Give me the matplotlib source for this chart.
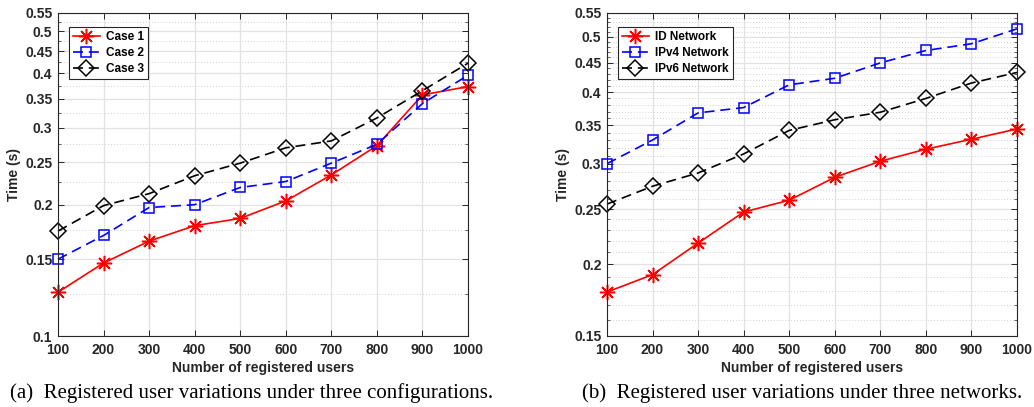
import matplotlib
matplotlib.use("Agg")
import matplotlib.pyplot as plt
from matplotlib.ticker import FixedLocator, FixedFormatter, NullFormatter

users = [100, 200, 300, 400, 500, 600, 700, 800, 900, 1000]

case1 = [0.126, 0.147, 0.165, 0.179, 0.186, 0.204, 0.234, 0.273, 0.357, 0.373]
case2 = [0.150, 0.170, 0.197, 0.200, 0.219, 0.226, 0.249, 0.275, 0.341, 0.396]
case3 = [0.174, 0.199, 0.212, 0.233, 0.249, 0.270, 0.280, 0.316, 0.365, 0.422]

id_net = [0.179, 0.192, 0.218, 0.247, 0.259, 0.284, 0.303, 0.318, 0.331, 0.345]
ipv4_net = [0.300, 0.330, 0.368, 0.376, 0.412, 0.423, 0.450, 0.473, 0.486, 0.516]
ipv6_net = [0.255, 0.274, 0.289, 0.312, 0.343, 0.358, 0.369, 0.390, 0.415, 0.433]

left_labels = ["Case 1", "Case 2", "Case 3"]
right_labels = ["ID Network", "IPv4 Network", "IPv6 Network"]

left_yticks = [0.1, 0.15, 0.2, 0.25, 0.3, 0.35, 0.4, 0.45, 0.5, 0.55]
left_yminor = [0.125, 0.175, 0.225, 0.275, 0.325, 0.375, 0.425, 0.475, 0.525]
right_yticks = [0.15, 0.2, 0.25, 0.3, 0.35, 0.4, 0.45, 0.5, 0.55]
right_yminor = [v / 100 for v in range(16, 55) if v % 5 != 0]

captions = ["(a)  Registered user variations under three configurations.",
            "(b)  Registered user variations under three networks."]

plt.rcParams['font.family'] = ['Liberation Sans', 'DejaVu Sans']
plt.rcParams['font.weight'] = 'bold'
TXT = '#262626'

fig = plt.figure(figsize=(10.34, 4.07), dpi=100)
W, H = 1034, 407

def make_ax(x0, x1, y0, y1):
    return fig.add_axes([x0 / W, 1 - y1 / H, (x1 - x0) / W, (y1 - y0) / H])

axL = make_ax(58, 468, 13, 336)
axR = make_ax(607, 1017, 13, 336)

styles = [dict(color='red', marker=(8, 2, 0), linestyle='-', markersize=11, markeredgewidth=1.1),
          dict(color='blue', marker='s', linestyle=(0, (6, 3.5)), markersize=7, markerfacecolor='none', markeredgewidth=1.1),
          dict(color='black', marker='D', linestyle=(0, (6, 3.5)), markersize=8, markerfacecolor='none', markeredgewidth=1.1)]

def setup(ax, series, labels, yticks, yminor, ylim):
    for s, lab, st in zip(series, labels, styles):
        ax.plot(users, s, label=lab, linewidth=1.2, clip_on=False, zorder=3, **st)
    ax.set_yscale('log')
    ax.set_xlim(100, 1000)
    ax.set_ylim(*ylim)
    ax.xaxis.set_major_locator(FixedLocator(users))
    ax.set_xticklabels([str(u) for u in users])
    ax.yaxis.set_major_locator(FixedLocator(yticks))
    ax.yaxis.set_major_formatter(FixedFormatter([('%g' % t) for t in yticks]))
    ax.yaxis.set_minor_locator(FixedLocator(yminor))
    ax.yaxis.set_minor_formatter(NullFormatter())
    ax.grid(True, which='major', color='#e2e2e2', linewidth=0.9, linestyle='-')
    ax.grid(True, which='minor', axis='y', color='#c4c4c4', linewidth=0.6, linestyle=(0, (1, 2.5)))
    ax.set_axisbelow(True)
    ax.tick_params(which='both', direction='in', top=True, right=True, colors=TXT,
                   labelsize=10)
    ax.tick_params(axis='x', pad=5)
    ax.tick_params(axis='y', pad=4)
    ax.tick_params(which='major', length=4, width=0.7)
    ax.tick_params(which='minor', length=2, width=0.5)
    for sp in ax.spines.values():
        sp.set_color(TXT)
        sp.set_linewidth(0.8)
        sp.set_zorder(4)
    for lbl in ax.get_xticklabels() + ax.get_yticklabels():
        lbl.set_fontweight('bold')
    ax.set_xlabel('Number of registered users', fontsize=10, fontweight='bold', color=TXT, labelpad=3)
    ax.set_ylabel('Time (s)', fontsize=10, fontweight='bold', color=TXT, labelpad=3)
    leg = ax.legend(loc='upper left', bbox_to_anchor=(0.02, 0.965), fontsize=8.5, frameon=True,
                    fancybox=False, edgecolor=TXT, framealpha=1, handlelength=2.3,
                    borderpad=0.35, labelspacing=0.35, handletextpad=0.5, borderaxespad=0.2)
    leg.get_frame().set_linewidth(0.8)
    leg.set_zorder(5)
    for t in leg.get_texts():
        t.set_fontweight('bold')
        t.set_color('black')

setup(axL, [case1, case2, case3], left_labels, left_yticks, left_yminor, (0.1, 0.55))
setup(axR, [id_net, ipv4_net, ipv6_net], right_labels, right_yticks, right_yminor, (0.15, 0.55))

fig.text(252 / W, 1 - 393 / H, captions[0], ha='center', va='center', fontsize=15,
         family='Liberation Serif', fontweight='normal', color='black')
fig.text(802 / W, 1 - 393 / H, captions[1], ha='center', va='center', fontsize=15,
         family='Liberation Serif', fontweight='normal', color='black')

fig.savefig('out.png', dpi=100)
